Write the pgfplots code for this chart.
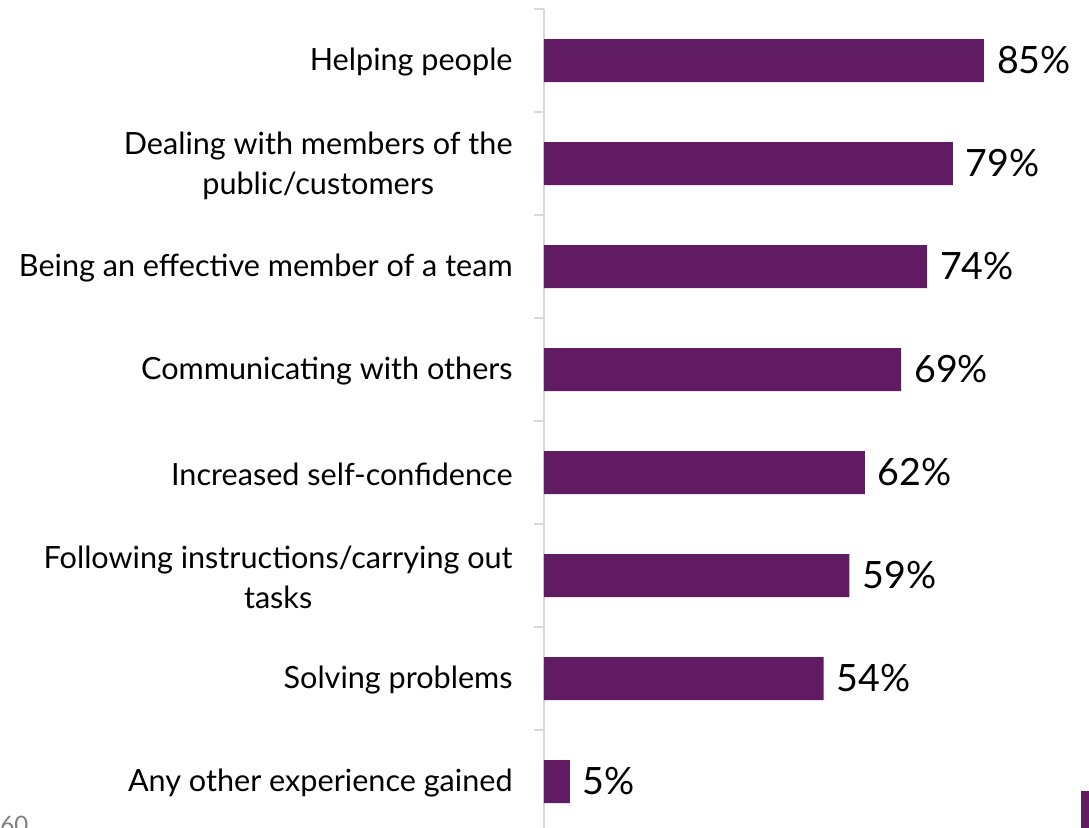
\documentclass[border=0pt]{standalone}
\usepackage{pgfplots}
\pgfplotsset{compat=1.18}
\usepackage{fontspec}
\setmainfont{Lato}
\definecolor{barpurple}{HTML}{601B62}
\definecolor{axgrey}{HTML}{D9D9D9}
\begin{document}
\begin{tikzpicture}
\useasboundingbox (0,0) rectangle (544.5pt,-413.5pt);
\begin{axis}[
  at={(272pt,-4.5pt)}, anchor=north west,
  scale only axis, width=258.8pt, height=412pt,
  xmin=0, xmax=100, ymin=-0.5, ymax=7.5,
  axis x line=none, axis y line*=left,
  y axis line style={draw=axgrey, line width=1pt, -},
  xbar, bar width=21.5pt,
  ytick={0,1,2,3,4,5,6,7},
  yticklabels={Any other experience gained,Solving problems,{Following instructions/carrying out\\tasks},Increased self-confidence,Communicating with others,Being an effective member of a team,{Dealing with members of the\\public/customers},Helping people},
  major tick length=0pt,
  yticklabel style={align=center, inner sep=0pt, xshift=-15.5pt, yshift=-1pt, font=\fontsize{15.3}{20}\selectfont},
  extra y ticks={-0.5,0.5,1.5,2.5,3.5,4.5,5.5,6.5,7.5},
  extra y tick labels={},
  extra y tick style={major tick length=5pt, tick align=outside, tick style={draw=axgrey, line width=1pt}},
  nodes near coords={\pgfmathprintnumber[assume math mode=true]{\pgfplotspointmeta}\%},
  nodes near coords align=horizontal,
  every node near coord/.append style={font=\fontsize{18.8}{21}\selectfont, black, xshift=3pt},
  clip=false,
]
\addplot[fill=barpurple, draw=none] coordinates {(5,0) (54,1) (59,2) (62,3) (69,4) (74,5) (79,6) (85,7)};
\end{axis}
\node[anchor=north west, inner sep=0pt, text=gray, font=\fontsize{12}{13}\selectfont] at (0pt,-408pt) {60};
\fill[barpurple] (540.5pt,-395.5pt) rectangle (550pt,-420pt);
\end{tikzpicture}
\end{document}
